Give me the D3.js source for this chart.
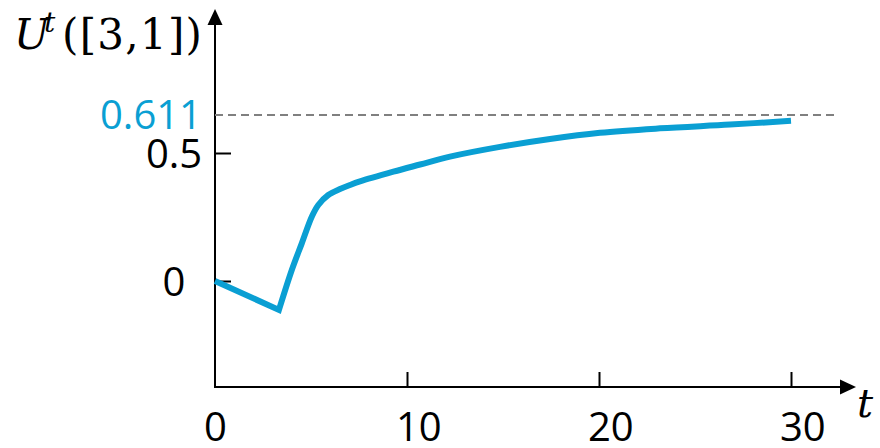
<!DOCTYPE html>
<html>
<head>
<meta charset="utf-8">
<script src="https://cdn.jsdelivr.net/npm/d3@7"></script>
<style>
  html, body { margin: 0; padding: 0; background: #fff; }
  svg { display: block; }
</style>
</head>
<body>
<svg id="chart" width="880" height="448"></svg>
<script>
// Utility U^t([3,1]) over time t
const tValues = [0, 3.33, 4.0, 4.52, 5.04, 5.38, 5.9, 6.51, 7.03, 7.55, 9.29, 10.68, 12.24, 14.84, 17.45, 20.05, 23.18, 26.82, 30];
const uValues = [0, -0.113, 0.043, 0.147, 0.251, 0.297, 0.336, 0.359, 0.375, 0.389, 0.427, 0.455, 0.486, 0.518, 0.541, 0.559, 0.572, 0.583, 0.594];

const xTicks = [0, 10, 20, 30];
const yTicks = [0, 0.5];
const limitValue = 0.611;
const limitLabel = "0.611";

const blue = "#0a9fd3";
const svg = d3.select("#chart");

// schematic axes: piecewise-linear value axis
const x = d3.scaleLinear().domain([0, 30]).range([215, 791]);
const y = d3.scaleLinear().domain([-0.414, 0, 0.5, limitValue]).range([387, 281, 153, 115]);

const x0 = x(0), yBase = 387;

// axis lines with arrow heads
svg.append("line").attr("x1", x0).attr("x2", x0).attr("y1", yBase).attr("y2", 24)
  .attr("stroke", "#000").attr("stroke-width", 2);
svg.append("path").attr("d", `M${x0},9 L${x0 - 7.5},25 L${x0 + 7.5},25 Z`).attr("fill", "#000");
svg.append("line").attr("x1", x0 - 1).attr("x2", 841).attr("y1", yBase).attr("y2", yBase)
  .attr("stroke", "#000").attr("stroke-width", 2);
svg.append("path").attr("d", `M856,${yBase} L840,${yBase - 7.5} L840,${yBase + 7.5} Z`).attr("fill", "#000");

// x axis ticks and labels
const xAxis = svg.append("g").attr("transform", `translate(0,${yBase})`)
  .call(d3.axisBottom(x).tickValues(xTicks).tickSizeInner(-15).tickSizeOuter(0).tickFormat(d3.format("d")));
xAxis.select(".domain").remove();
xAxis.selectAll(".tick line").attr("stroke", "#000").attr("stroke-width", 2)
  .attr("display", d => d === 0 ? "none" : null);
xAxis.selectAll(".tick text")
  .attr("y", 54).attr("dy", null).attr("x", -11.5).attr("text-anchor", "start")
  .attr("fill", "#000").style("font-family", "'Open Sans', sans-serif").style("font-size", "40px");

// y axis ticks and labels
const yAxis = svg.append("g").attr("transform", `translate(${x0},0)`)
  .call(d3.axisRight(y).tickValues(yTicks).tickSizeInner(16).tickSizeOuter(0).tickFormat(d => d === 0 ? "0" : d3.format(".1f")(d)));
yAxis.select(".domain").remove();
yAxis.selectAll(".tick line").attr("stroke", "#000").attr("stroke-width", 2);
yAxis.selectAll(".tick text")
  .attr("x", -41).attr("dy", null).attr("y", 14).attr("text-anchor", "middle")
  .attr("fill", "#000").style("font-family", "'Open Sans', sans-serif").style("font-size", "40px");

// limit reference line
svg.append("line")
  .attr("x1", x0).attr("x2", 834).attr("y1", y(limitValue)).attr("y2", y(limitValue))
  .attr("stroke", "#808080").attr("stroke-width", 2).attr("stroke-dasharray", "8,5");
svg.append("text")
  .attr("x", 202).attr("y", y(limitValue) + 13.5).attr("text-anchor", "end")
  .attr("fill", blue).style("font-family", "'Open Sans', sans-serif").style("font-size", "40px")
  .text(limitLabel);

// utility curve: straight initial drop, smooth recovery afterwards
const pts = tValues.map((t, i) => [x(t), y(uValues[i])]);
const recovery = d3.line().curve(d3.curveCatmullRom.alpha(0.5))(pts.slice(1));
const curvePath = `M${pts[0][0]},${pts[0][1]}L` + recovery.slice(1);
svg.append("path")
  .attr("d", curvePath).attr("fill", "none").attr("stroke", blue)
  .attr("stroke-width", 6).attr("stroke-linejoin", "miter");

// axis titles
const yTitle = svg.append("text").attr("y", 49)
  .style("font-family", "'DejaVu Serif', serif").style("font-size", "42px").attr("fill", "#000");
yTitle.append("tspan").attr("x", 14).style("font-style", "italic").text("U");
yTitle.append("tspan").attr("x", 44).attr("y", 32).style("font-style", "italic").style("font-size", "28px").text("t");
yTitle.append("tspan").attr("x", 62).attr("y", 49).attr("textLength", 140).text("([3,1])");

svg.append("text").attr("x", 857).attr("y", 417)
  .style("font-family", "'DejaVu Serif', serif").style("font-style", "italic").style("font-size", "40px")
  .attr("fill", "#000").text("t");
</script>
</body>
</html>
